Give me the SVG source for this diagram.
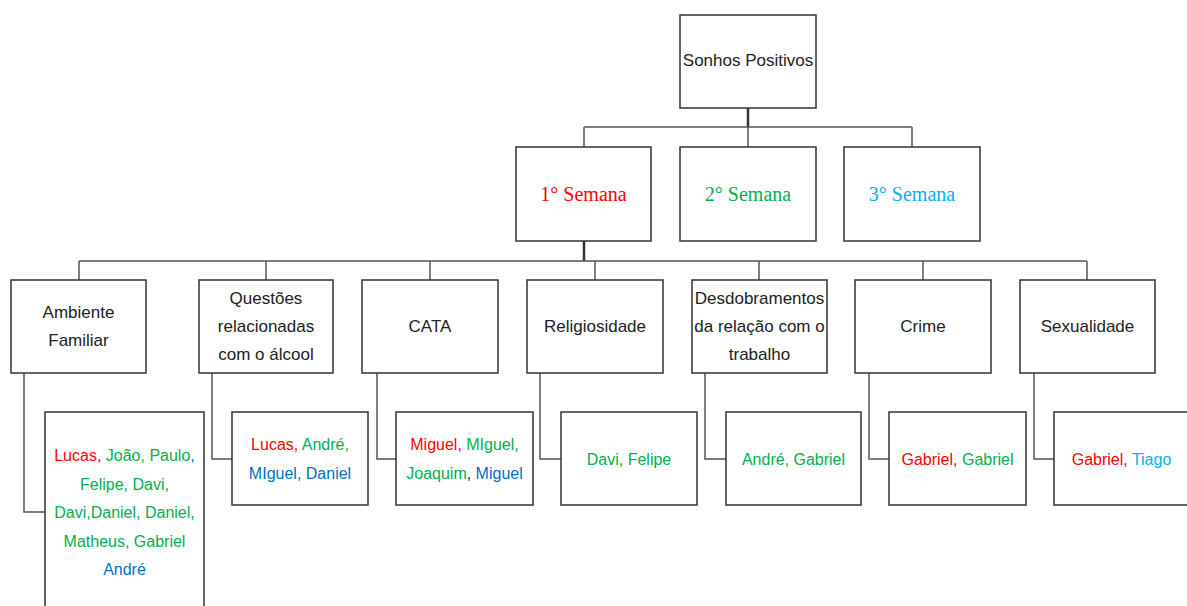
<svg xmlns="http://www.w3.org/2000/svg" width="1187" height="606" viewBox="0 0 1187 606">
<style>
.box{fill:#fff;stroke:#333;stroke-width:1.5}
.ln{fill:none;stroke:#555;stroke-width:1.5}
.thk{fill:none;stroke:#333;stroke-width:2.5}
.t{font-family:"Liberation Sans",Arial,sans-serif;font-size:17px;fill:#222;text-anchor:middle}
.l{font-family:"Liberation Sans",Arial,sans-serif;font-size:16px;text-anchor:middle}
.s{font-family:"Liberation Serif","Times New Roman",serif;font-size:20px;text-anchor:middle}
.r{fill:#FF0000}.g{fill:#00B050}.b{fill:#0070C0}.c{fill:#00B0F0}.k{fill:#222}
</style>
<rect width="1187" height="606" fill="#fff"/>
<g id="connectors">
<path class="thk" d="M748 108V127"/>
<path class="ln" d="M584 127H912M584 127V147M748 127V147M912 127V147"/>
<path class="thk" d="M584 241V261"/>
<path class="ln" d="M79 261H1087M79 261V280M266 261V280M430 261V280M595 261V280M759 261V280M923 261V280M1087 261V280"/>
<path class="ln" d="M24 373V512H45"/>
<path class="ln" d="M212 373V459H232"/>
<path class="ln" d="M377 373V459H396"/>
<path class="ln" d="M540 373V459H561"/>
<path class="ln" d="M705 373V459H726"/>
<path class="ln" d="M869 373V459H889"/>
<path class="ln" d="M1034 373V459H1054"/>
</g>
<g id="root"><rect class="box" x="680" y="15" width="136" height="93"/><text class="t" x="748" y="66">Sonhos Positivos</text></g>
<g id="semana1"><rect class="box" x="516" y="147" width="135" height="94"/><text class="s r" x="583.5" y="201">1° Semana</text></g>
<g id="semana2"><rect class="box" x="680" y="147" width="136" height="94"/><text class="s g" x="748" y="201">2° Semana</text></g>
<g id="semana3"><rect class="box" x="844" y="147" width="136" height="94"/><text class="s c" x="912" y="201">3° Semana</text></g>
<g id="ambiente"><rect class="box" x="11" y="280" width="135" height="93"/><text class="t" x="78.5" y="318">Ambiente</text><text class="t" x="78.5" y="346">Familiar</text></g>
<g id="questoes"><rect class="box" x="199" y="280" width="134" height="93"/><text class="t" x="266" y="304">Questões</text><text class="t" x="266" y="332">relacionadas</text><text class="t" x="266" y="360">com o álcool</text></g>
<g id="cata"><rect class="box" x="362" y="280" width="136" height="93"/><text class="t" x="430" y="332">CATA</text></g>
<g id="religiosidade"><rect class="box" x="527" y="280" width="136" height="93"/><text class="t" x="595" y="332">Religiosidade</text></g>
<g id="desdobramentos"><rect class="box" x="692" y="280" width="135" height="93"/><text class="t" x="759.5" y="304">Desdobramentos</text><text class="t" x="759.5" y="332">da relação com o</text><text class="t" x="759.5" y="360">trabalho</text></g>
<g id="crime"><rect class="box" x="855" y="280" width="136" height="93"/><text class="t" x="923" y="332">Crime</text></g>
<g id="sexualidade"><rect class="box" x="1020" y="280" width="135" height="93"/><text class="t" x="1087.5" y="332">Sexualidade</text></g>
<g id="leaf-ambiente"><rect class="box" x="45" y="412" width="159" height="200"/>
<text class="l" x="124.5" y="461"><tspan class="r">Lucas,</tspan><tspan class="g"> João, Paulo</tspan><tspan class="b">,</tspan></text>
<text class="l g" x="124.5" y="490">Felipe, Davi,</text>
<text class="l g" x="124.5" y="518">Davi,Daniel, Daniel,</text>
<text class="l g" x="124.5" y="547">Matheus, Gabriel</text>
<text class="l b" x="124.5" y="575">André</text></g>
<g id="leaf-questoes"><rect class="box" x="232" y="412" width="136" height="93"/>
<text class="l" x="300" y="450"><tspan class="r">Lucas,</tspan><tspan class="g"> André,</tspan></text>
<text class="l b" x="300" y="479">MIguel, Daniel</text></g>
<g id="leaf-cata"><rect class="box" x="396" y="412" width="137" height="93"/>
<text class="l" x="464.5" y="450"><tspan class="r">Miguel,</tspan><tspan class="g"> MIguel,</tspan></text>
<text class="l" x="464.5" y="479"><tspan class="g">Joaquim</tspan><tspan class="k">,</tspan><tspan class="b"> Miguel</tspan></text></g>
<g id="leaf-religiosidade"><rect class="box" x="561" y="412" width="136" height="93"/><text class="l g" x="629" y="465">Davi, Felipe</text></g>
<g id="leaf-desdobramentos"><rect class="box" x="726" y="412" width="135" height="93"/><text class="l g" x="793.5" y="465">André, Gabriel</text></g>
<g id="leaf-crime"><rect class="box" x="889" y="412" width="137" height="93"/><text class="l" x="957.5" y="465"><tspan class="r">Gabriel,</tspan><tspan class="g"> Gabriel</tspan></text></g>
<g id="leaf-sexualidade"><rect class="box" x="1054" y="412" width="136" height="93"/><text class="l" x="1121.5" y="465"><tspan class="r">Gabriel,</tspan><tspan class="c"> Tiago</tspan></text></g>
</svg>
